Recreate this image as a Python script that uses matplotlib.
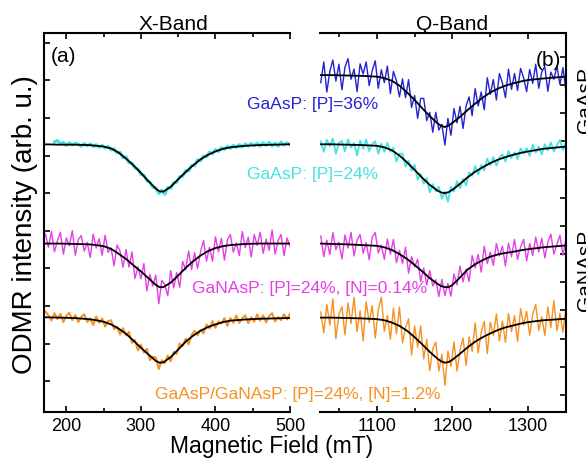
import numpy as np
import matplotlib
matplotlib.use('Agg')
import matplotlib.pyplot as plt

plt.rcParams['font.family'] = ['Liberation Sans', 'DejaVu Sans']

# ---- X-band (left panel), field in mT ----
xb_field = np.arange(172, 501, 4)
xb_field_cyan = np.arange(184, 501, 4)
xb_fit_field = [170, 190, 210, 230, 240, 250, 260, 270, 280, 290, 300, 310, 320, 325,
                330, 340, 350, 360, 370, 380, 390, 400, 410, 420, 440, 460, 480, 500]

xb_cyan = [0.06, 0.10, 0.02, 0.05, -0.03, 0.04, -0.02, 0.03, 0.00, -0.05,
           0.02, -0.04, 0.01, -0.06, -0.01, -0.08, -0.03, -0.10, -0.06, -0.15,
           -0.12, -0.23, -0.21, -0.36, -0.33, -0.49, -0.50, -0.63, -0.66, -0.80,
           -0.82, -0.97, -1.00, -1.14, -1.16, -1.31, -1.22, -1.33, -1.15, -1.17,
           -1.02, -1.01, -0.86, -0.85, -0.70, -0.71, -0.56, -0.57, -0.41, -0.44,
           -0.31, -0.33, -0.21, -0.25, -0.14, -0.19, -0.09, -0.14, -0.05, -0.11,
           -0.03, -0.08, -0.01, -0.07, 0.01, -0.05, 0.02, -0.04, 0.03, -0.05,
           0.04, -0.03, 0.05, -0.04, 0.03, -0.05, 0.06, -0.02, 0.04, -0.01]
xb_magenta = [0.25, -0.10, 0.32, -0.22, 0.08, 0.30, -0.28, 0.15, -0.06, 0.34,
              -0.31, 0.11, 0.21, -0.20, 0.03, -0.37, 0.25, -0.12, 0.13, -0.31,
              0.22, -0.23, -0.12, -0.59, -0.04, -0.20, -0.63, -0.16, -0.63, -0.22,
              -0.93, -0.62, -0.94, -0.53, -1.26, -0.82, -1.13, -0.84, -1.60, -0.98,
              -1.09, -1.39, -0.72, -1.18, -0.77, -1.16, -0.48, -0.70, -0.20, -0.69,
              -0.24, -0.66, -0.22, 0.08, -0.47, -0.10, -0.47, 0.18, -0.22, 0.14,
              -0.44, 0.10, 0.24, -0.23, 0.02, -0.32, 0.32, -0.11, 0.17, -0.36,
              0.24, -0.05, 0.30, -0.26, 0.12, -0.18, 0.36, -0.28, 0.08, 0.24,
              -0.32, 0.15, -0.08]
xb_orange = [0.16, 0.06, -0.08, 0.12, -0.04, 0.10, -0.12, 0.05, 0.13, -0.07,
             0.07, -0.12, 0.02, 0.09, -0.12, -0.02, -0.20, 0.03, -0.14, -0.02,
             -0.24, -0.09, -0.07, -0.31, -0.24, -0.45, -0.28, -0.47, -0.38, -0.67,
             -0.60, -0.87, -0.72, -0.93, -0.83, -1.13, -1.04, -1.06, -1.37, -1.13,
             -1.22, -1.01, -1.16, -0.91, -0.97, -0.69, -0.76, -0.56, -0.71, -0.46,
             -0.35, -0.47, -0.32, -0.42, -0.18, -0.29, -0.09, -0.27, -0.10, -0.16,
             -0.01, -0.22, -0.01, -0.14, 0.06, -0.14, -0.02, 0.06, -0.15, 0.01,
             -0.11, 0.09, -0.08, 0.06, -0.13, 0.04, 0.12, -0.10, 0.02, -0.07,
             0.09, -0.05, 0.11]

xb_cyan_fit = [0.00, -0.01, -0.01, -0.02, -0.04, -0.06, -0.11, -0.22, -0.38, -0.56,
               -0.76, -0.98, -1.18, -1.25, -1.26, -1.13, -0.93, -0.74, -0.56, -0.40,
               -0.28, -0.19, -0.12, -0.08, -0.04, -0.02, -0.01, 0.00]
xb_magenta_fit = [0.00, 0.00, -0.01, -0.02, -0.04, -0.07, -0.14, -0.27, -0.41, -0.58,
                  -0.74, -0.92, -1.10, -1.16, -1.16, -1.04, -0.85, -0.65, -0.47, -0.32,
                  -0.20, -0.12, -0.07, -0.04, -0.01, 0.00, 0.00, 0.00]
xb_orange_fit = [0.01, 0.00, -0.01, -0.04, -0.07, -0.11, -0.18, -0.29, -0.43, -0.61,
                 -0.80, -0.98, -1.15, -1.20, -1.19, -1.05, -0.85, -0.64, -0.48, -0.35,
                 -0.25, -0.18, -0.12, -0.08, -0.05, -0.03, -0.02, -0.01]

# ---- Q-band (right panel), field in mT ----
qb_field = np.arange(1026, 1351, 4)
qb_fit_field = [1025, 1040, 1060, 1080, 1100, 1110, 1120, 1130, 1140, 1150, 1160, 1170,
                1180, 1185, 1190, 1195, 1200, 1210, 1220, 1230, 1240, 1250, 1260, 1270,
                1280, 1290, 1300, 1320, 1350]

qb_blue = [-0.20, 0.35, -0.45, 0.10, 0.40, -0.16, 0.29, -0.39, 0.21, 0.44,
           -0.11, 0.16, -0.44, 0.30, 0.03, 0.35, -0.28, 0.12, 0.38, -0.35,
           0.14, -0.20, 0.24, -0.49, 0.10, -0.15, -0.58, -0.10, -0.60, -0.12,
           -0.86, -0.54, -1.15, -0.62, -0.62, -1.21, -0.99, -1.52, -0.99, -1.46,
           -1.31, -1.86, -1.15, -1.60, -0.89, -1.27, -0.83, -1.42, -0.82, -0.58,
           -1.08, -0.36, -0.82, -0.45, -0.92, -0.07, -0.51, -0.12, -0.66, 0.04,
           -0.21, -0.60, 0.16, -0.38, 0.04, -0.41, 0.18, -0.07, -0.44, 0.15,
           -0.22, 0.29, -0.35, 0.09, 0.23, -0.43, 0.08, -0.11, 0.24, -0.25,
           0.20, -0.44]
qb_cyan = [0.08, -0.20, 0.12, -0.05, 0.15, -0.25, 0.04, 0.09, -0.19, 0.13,
           -0.09, 0.04, -0.30, 0.10, -0.12, 0.13, -0.18, 0.01, 0.08, -0.25,
           0.02, -0.20, 0.04, -0.20, -0.09, -0.46, -0.25, -0.25, -0.59, -0.44,
           -0.70, -0.54, -0.94, -0.79, -1.05, -0.90, -1.28, -1.06, -1.25, -1.13,
           -1.45, -1.26, -1.53, -1.13, -1.26, -0.98, -1.17, -0.92, -1.09, -0.75,
           -0.84, -0.58, -0.80, -0.55, -0.69, -0.38, -0.56, -0.34, -0.57, -0.35,
           -0.27, -0.46, -0.18, -0.37, -0.21, -0.40, -0.11, -0.25, -0.10, -0.31,
           -0.01, -0.22, -0.06, -0.27, 0.00, -0.16, 0.05, -0.19, -0.02, 0.11,
           -0.15, 0.04]
qb_magenta = [0.20, -0.35, 0.09, -0.29, 0.29, -0.16, 0.04, -0.41, 0.23, -0.12,
              0.30, -0.33, 0.09, 0.24, -0.26, 0.03, -0.43, 0.17, 0.29, -0.25,
              -0.04, -0.42, 0.12, -0.28, 0.11, -0.51, -0.18, -0.53, -0.10, -0.79,
              -0.35, -0.62, -0.42, -1.01, -0.65, -1.10, -0.72, -1.13, -0.96, -1.41,
              -0.95, -1.38, -1.06, -1.40, -0.81, -1.10, -0.60, -1.02, -0.68, -1.01,
              -0.32, -0.65, -0.29, -0.76, -0.07, -0.53, -0.23, -0.58, 0.00, -0.33,
              -0.07, -0.60, 0.01, -0.35, 0.11, -0.42, -0.10, 0.11, -0.46, 0.00,
              -0.32, 0.17, -0.22, 0.14, -0.38, 0.03, 0.25, -0.28, -0.02, 0.22,
              -0.31, 0.13]
qb_orange = [0.15, -0.40, 0.35, -0.20, 0.50, -0.56, 0.09, 0.29, -0.46, 0.39,
             -0.16, 0.54, -0.37, 0.18, -0.62, 0.42, -0.13, 0.32, -0.54, 0.20,
             0.54, -0.37, 0.06, -0.57, 0.25, -0.43, 0.28, -0.67, -0.27, -0.03,
             -0.99, -0.22, -0.79, -0.22, -1.10, -0.58, -1.41, -0.83, -0.65, -1.42,
             -0.97, -1.80, -0.89, -1.30, -0.64, -1.42, -0.86, -0.54, -1.27, -0.51,
             -0.90, -0.14, -0.94, -0.39, -0.10, -0.96, -0.12, -0.48, 0.10, -0.62,
             -0.09, -0.66, 0.11, -0.37, 0.05, -0.63, 0.24, -0.20, 0.17, -0.47,
             0.09, 0.35, -0.34, 0.02, -0.47, 0.28, -0.26, 0.45, -0.35, 0.11,
             -0.39, 0.27]

qb_blue_fit = [0.00, 0.00, -0.01, -0.02, -0.04, -0.08, -0.15, -0.28, -0.46, -0.66,
               -0.88, -1.09, -1.28, -1.35, -1.38, -1.34, -1.27, -1.11, -0.93, -0.76,
               -0.60, -0.46, -0.36, -0.28, -0.22, -0.17, -0.13, -0.09, -0.04]
qb_cyan_fit = [0.00, 0.00, -0.01, -0.02, -0.04, -0.08, -0.16, -0.30, -0.48, -0.68,
               -0.89, -1.08, -1.23, -1.28, -1.30, -1.27, -1.21, -1.05, -0.88, -0.73,
               -0.61, -0.50, -0.41, -0.34, -0.28, -0.23, -0.19, -0.12, -0.06]
qb_magenta_fit = [0.00, -0.01, -0.02, -0.04, -0.06, -0.10, -0.17, -0.28, -0.41, -0.57,
                  -0.74, -0.92, -1.07, -1.13, -1.16, -1.16, -1.10, -0.90, -0.69, -0.55,
                  -0.44, -0.35, -0.29, -0.25, -0.22, -0.18, -0.15, -0.10, -0.05]
qb_orange_fit = [0.00, 0.00, -0.01, -0.02, -0.04, -0.07, -0.13, -0.22, -0.35, -0.52,
                 -0.71, -0.91, -1.09, -1.16, -1.20, -1.18, -1.12, -0.96, -0.79, -0.64,
                 -0.52, -0.42, -0.33, -0.26, -0.21, -0.16, -0.12, -0.07, -0.03]

# vertical stacking offsets of the spectra
off_blue = 8.14
off_cyan = 6.30
off_magenta = 3.66
off_orange = 1.69

c_blue = '#2323cf'
c_cyan = '#45e3e3'
c_magenta = '#e43ee6'
c_orange = '#f79120'

W, H = 586, 462


def fx(x):
    return x / W


def fy(y):
    return 1 - y / H


fig = plt.figure(figsize=(W / 100, H / 100), dpi=100)
ax1 = fig.add_axes([fx(44), fy(412), 246 / W, 379 / H])
ax2 = fig.add_axes([fx(320), fy(412), 246 / W, 379 / H])

lw_data = 1.0
lw_fit = 1.3

ax1.plot(xb_field_cyan, off_cyan + np.array(xb_cyan), color=c_cyan, lw=2.2)
ax1.plot(xb_field, off_magenta + np.array(xb_magenta), color=c_magenta, lw=lw_data)
ax1.plot(xb_field, off_orange + np.array(xb_orange), color=c_orange, lw=1.4)
for fit, off in [(xb_cyan_fit, off_cyan), (xb_magenta_fit, off_magenta), (xb_orange_fit, off_orange)]:
    ax1.plot(xb_fit_field, off + np.array(fit), color='black', lw=lw_fit)

ax2.plot(qb_field, off_blue + np.array(qb_blue), color=c_blue, lw=lw_data)
ax2.plot(qb_field, off_cyan + np.array(qb_cyan), color=c_cyan, lw=1.3)
ax2.plot(qb_field, off_magenta + np.array(qb_magenta), color=c_magenta, lw=lw_data)
ax2.plot(qb_field, off_orange + np.array(qb_orange), color=c_orange, lw=lw_data)
for fit, off in [(qb_blue_fit, off_blue), (qb_cyan_fit, off_cyan),
                 (qb_magenta_fit, off_magenta), (qb_orange_fit, off_orange)]:
    ax2.plot(qb_fit_field, off + np.array(fit), color='black', lw=lw_fit)

for ax in (ax1, ax2):
    ax.set_ylim(-0.82, 9.26)
    for s in ax.spines.values():
        s.set_linewidth(1.5)
    ax.tick_params(axis='x', which='both', direction='in', top=True, bottom=True,
                   labelsize=13, pad=4, width=1.2)
    ax.tick_params(axis='x', which='major', length=4)
    ax.tick_params(axis='x', which='minor', length=3)
    ax.tick_params(axis='y', which='both', direction='in', length=4, width=1.2)

ax1.set_xlim(170, 500)
ax1.set_xticks([200, 300, 400, 500])
ax1.set_xticks([250, 350, 450], minor=True)
ax1.spines['right'].set_visible(False)
ax1.set_yticks(np.arange(0, 10))
ax1.set_yticklabels([])

ax2.set_xlim(1025, 1350)
ax2.set_xticks([1100, 1200, 1300])
ax2.set_xticks([1050, 1150, 1250], minor=True)
ax2.spines['left'].set_visible(False)
ax2.yaxis.set_ticks_position('right')
ax2.set_yticks(np.arange(-0.37, 9.0, 0.75))
ax2.set_yticklabels([])

# headers and panel labels
fig.text(fx(173), fy(25), 'X-Band', fontsize=15, ha='center', va='center')
fig.text(fx(452), fy(25), 'Q-Band', fontsize=15, ha='center', va='center')
fig.text(fx(51), fy(57), '(a)', fontsize=15, ha='left', va='center')
fig.text(fx(561), fy(60), '(b)', fontsize=15, ha='right', va='center')

# sample labels
fig.text(fx(247), fy(104), 'GaAsP: [P]=36%', color=c_blue, fontsize=12.5, va='center')
fig.text(fx(247), fy(174), 'GaAsP: [P]=24%', color=c_cyan, fontsize=12.5, va='center')
fig.text(fx(192), fy(288), 'GaNAsP: [P]=24%, [N]=0.14%', color=c_magenta, fontsize=12.5, va='center')
fig.text(fx(155), fy(395), 'GaAsP/GaNAsP: [P]=24%, [N]=1.2%', color=c_orange, fontsize=12.5, va='center')

# group labels, cut by the right edge as in the original figure
fig.text(fx(576), fy(100), 'GaAsP', fontsize=15, rotation=90, ha='left', va='center')
fig.text(fx(576), fy(270), 'GaNAsP', fontsize=15, rotation=90, ha='left', va='center')

fig.text(fx(25), fy(225), 'ODMR intensity (arb. u.)', fontsize=20, rotation=90,
         ha='center', va='center')
fig.text(fx(272), fy(447), 'Magnetic Field (mT)', fontsize=16.5, ha='center', va='center')

fig.savefig('out.png', dpi=100)
